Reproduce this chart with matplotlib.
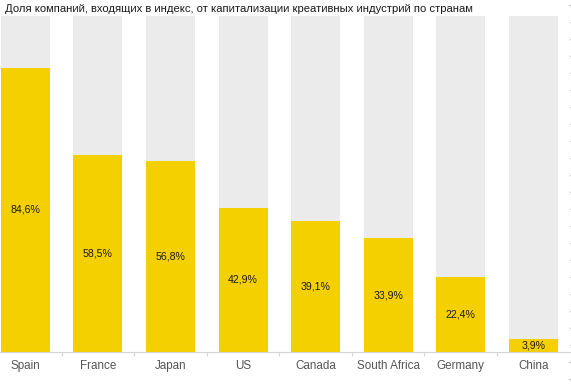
import numpy as np
import matplotlib.pyplot as plt

plt.rcParams['font.family'] = ['Liberation Sans', 'DejaVu Sans']

# Data
countries = ['Spain', 'France', 'Japan', 'US', 'Canada', 'South Africa', 'Germany', 'China']
shares = [84.6, 58.5, 56.8, 42.9, 39.1, 33.9, 22.4, 3.9]
labels = ['84,6%', '58,5%', '56,8%', '42,9%', '39,1%', '33,9%', '22,4%', '3,9%']
title = 'Доля компаний, входящих в индекс, от капитализации креативных индустрий по странам'

yellow = '#f5d000'
grey = '#ebebeb'

fig = plt.figure(figsize=(5.71, 3.85), dpi=100)

# decorative dashes along the right edge
deco = fig.add_axes([0, 0, 1, 1])
deco.set_xlim(0, 571)
deco.set_ylim(385, 0)
deco.axis('off')
for yy in np.arange(5.3, 385, 17):
    deco.plot([568.5, 571.5], [yy, yy], color='#c8c8c8', lw=1.0)

ax = fig.add_axes([0, 33 / 385, 569.5 / 571, (352 - 16) / 385])
x = np.arange(len(countries))
w = 0.675
rest = [100 - s for s in shares]
ax.bar(x, shares, width=w, color=yellow, zorder=2)
ax.bar(x, rest, width=w, bottom=shares, color=grey, zorder=2)

for xi, s, lab in zip(x, shares, labels):
    ax.text(xi, s / 2, lab, ha='center', va='center', fontsize=7.6, color='#1a1a1a')

ax.set_xlim(-0.35, 7.5)
ax.set_ylim(0, 100)
ax.set_yticks([])
for sp in ['left', 'right', 'top']:
    ax.spines[sp].set_visible(False)
ax.spines['bottom'].set_color('#d4d4d4')
ax.spines['bottom'].set_linewidth(0.8)

ax.set_xticks(x)
ax.set_xticklabels(countries, fontsize=8.4, color='#555555')
ax.tick_params(axis='x', length=0, pad=5.5)
ax.set_xticks(np.arange(0.5, 7, 1), minor=True)
ax.tick_params(axis='x', which='minor', length=3, color='#d4d4d4', width=0.8)

fig.text(5 / 571, 1 - 8.5 / 385, title, ha='left', va='center', fontsize=8.1, color='#1a1a1a')

fig.savefig('out.png', dpi=100)
